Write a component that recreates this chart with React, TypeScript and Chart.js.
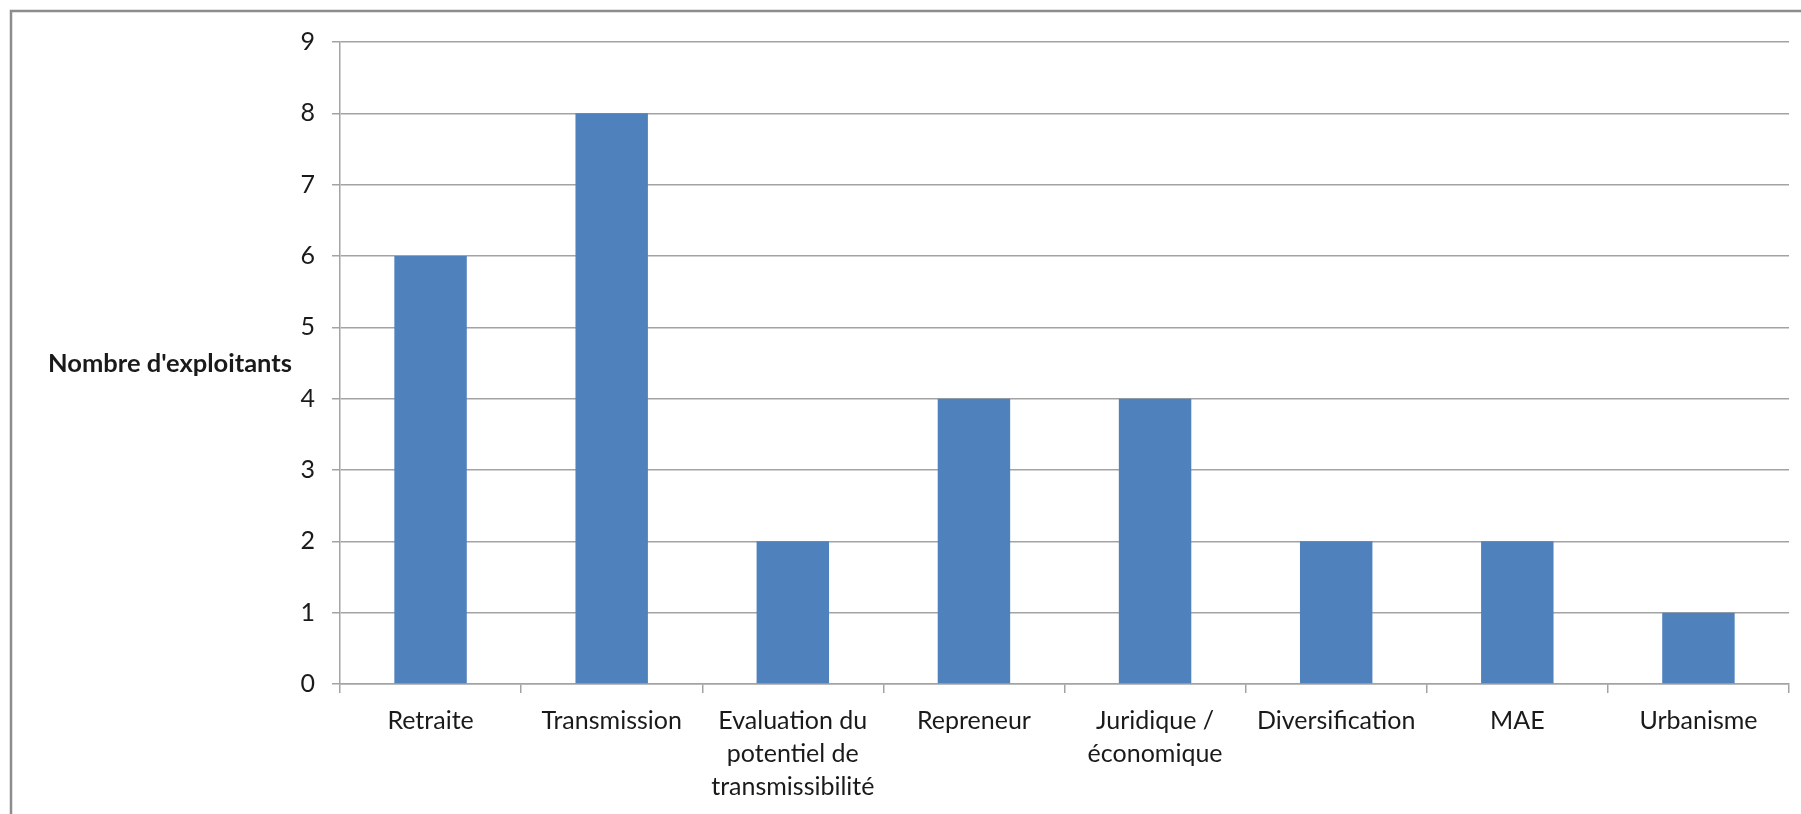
import React, { useEffect, useRef } from "react";
import { Chart, registerables } from "chart.js";

Chart.register(...registerables);

const categories: (string | string[])[] = [
  "Retraite",
  "Transmission",
  ["Evaluation du", "potentiel de", "transmissibilité"],
  "Repreneur",
  ["Juridique /", "économique"],
  "Diversification",
  "MAE",
  "Urbanisme",
];
const values: number[] = [6, 8, 2, 4, 4, 2, 2, 1];
const yAxisTitle = "Nombre d'exploitants";
const yMin = 0;
const yMax = 9;

const FONT = "Lato, 'Open Sans', 'Noto Sans', sans-serif";
const TEXT = "#1a1a1a";
const GRID = "#a3a3a3";

const decorPlugin = {
  id: "decor",
  beforeDraw(chart: any) {
    const ctx = chart.ctx;
    ctx.save();
    ctx.fillStyle = "#ffffff";
    ctx.fillRect(0, 0, chart.width, chart.height);
    ctx.strokeStyle = "#8c8c8c";
    ctx.lineWidth = 2.5;
    ctx.beginPath();
    ctx.moveTo(11, chart.height + 5);
    ctx.lineTo(11, 11);
    ctx.lineTo(chart.width + 5, 11);
    ctx.stroke();
    ctx.restore();
  },
  afterDraw(chart: any) {
    const ctx = chart.ctx;
    const area = chart.chartArea;
    ctx.save();
    ctx.font = `bold 25.5px ${FONT}`;
    ctx.fillStyle = TEXT;
    ctx.textAlign = "center";
    ctx.textBaseline = "middle";
    ctx.fillText(yAxisTitle, 170, (area.top + area.bottom) / 2 + 1);
    ctx.restore();
  },
};

export default function App() {
  const ref = useRef<HTMLCanvasElement | null>(null);

  useEffect(() => {
    if (!ref.current) return;
    const chart = new Chart(ref.current, {
      type: "bar",
      data: {
        labels: categories,
        datasets: [
          {
            data: values,
            backgroundColor: "#4F81BD",
            borderWidth: 0,
            barPercentage: 0.4,
            categoryPercentage: 1,
          },
        ],
      },
      options: {
        animation: false,
        responsive: false,
        events: [],
        layout: { padding: { left: 0, right: 12, top: 42, bottom: 0 } },
        plugins: {
          legend: { display: false },
          tooltip: { enabled: false },
          title: { display: false },
        },
        scales: {
          x: {
            grid: {
              display: true,
              drawOnChartArea: false,
              drawTicks: true,
              tickLength: 9,
              color: GRID,
              lineWidth: 1.5,
              offset: true,
            },
            border: { display: true, color: GRID, width: 1.5 },
            ticks: {
              color: TEXT,
              font: { family: FONT, size: 25, lineHeight: 1.33 },
              padding: 11,
              maxRotation: 0,
              minRotation: 0,
              autoSkip: false,
            },
            afterFit(scale: any) {
              scale.height = 130;
            },
          },
          y: {
            min: yMin,
            max: yMax,
            grid: {
              color: GRID,
              lineWidth: 1.5,
              drawTicks: true,
              tickLength: 8,
            },
            border: { display: true, color: GRID, width: 1.5 },
            ticks: {
              stepSize: 1,
              color: TEXT,
              font: { family: FONT, size: 25 },
              padding: 17,
            },
            afterFit(scale: any) {
              scale.width = 340;
            },
          },
        },
      },
      plugins: [decorPlugin],
    });
    return () => chart.destroy();
  }, []);

  return (
    <div style={{ position: "absolute", left: 0, top: 0, width: 1801, height: 814, overflow: "hidden", background: "#fff" }}>
      <canvas ref={ref} width={1801} height={814} style={{ display: "block" }} />
    </div>
  );
}
